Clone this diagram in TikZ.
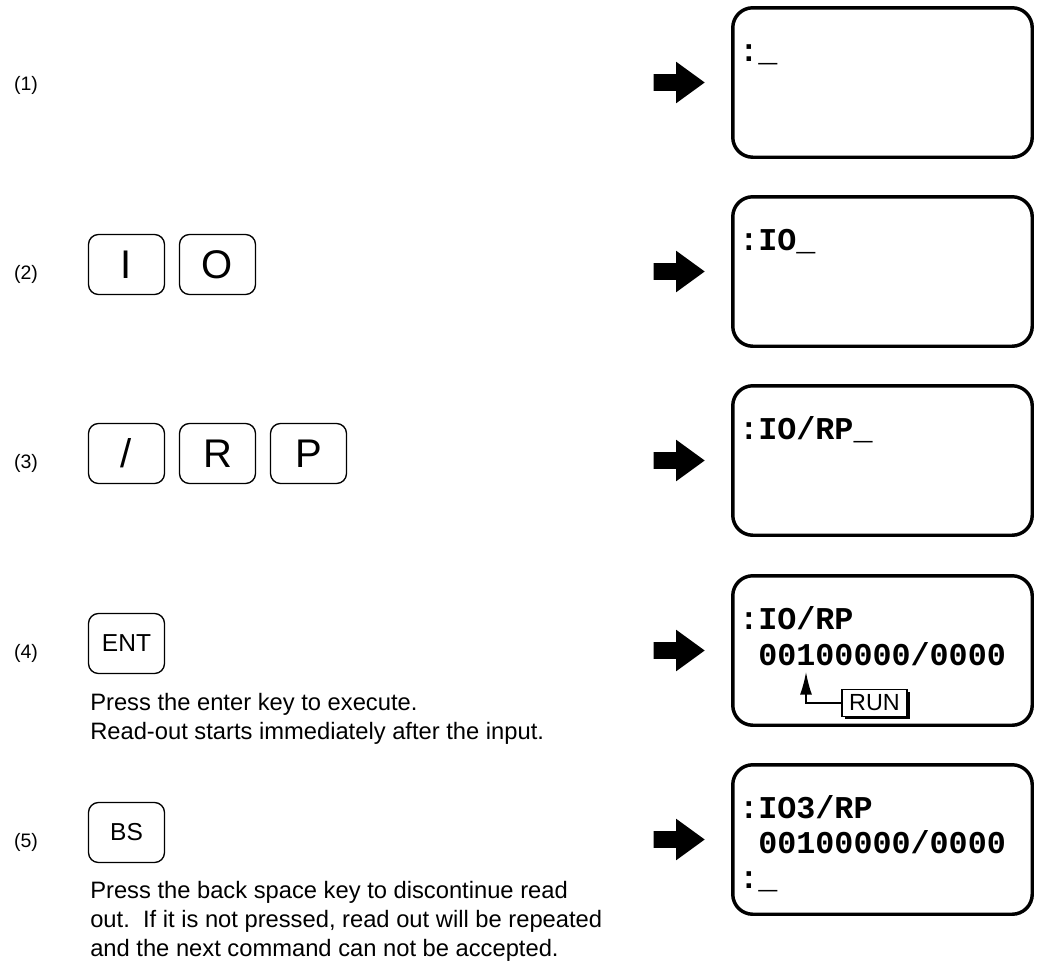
\documentclass[tikz,border=0pt]{standalone}
\usepackage{fontspec}
\setmainfont{Liberation Sans}
\newfontfamily\lcdfont{Liberation Mono}
\usetikzlibrary{arrows.meta, shapes.arrows, shadows}

\begin{document}
\begin{tikzpicture}[x=0.75pt, y=-0.75pt, node distance=68.25pt,
    num/.style = {inner sep=0pt, font=\fontsize{14.6}{17}\selectfont},
    key/.style = {draw, rounded corners=7.5pt, line width=1pt, minimum width=57pt, minimum height=45pt, inner sep=0pt, font=\fontsize{30}{36}\selectfont},
    smallkey/.style = {key, font=\fontsize{18.4}{22}\selectfont},
    note/.style = {align=left, inner sep=0pt, anchor=base west, font=\fontsize{17.8}{21.75}\selectfont},
    screen/.style = {draw, line width=2.6pt, rounded corners=15pt, minimum width=224.6pt, minimum height=112.1pt},
    lcd/.style = {inner sep=0pt, anchor=base west, font=\fontsize{23.8}{26}\selectfont\lcdfont\bfseries},
    go/.style = {single arrow, fill, draw=none, inner xsep=0pt, inner ysep=6pt, minimum height=38.25pt, single arrow head extend=9.4pt, single arrow tip angle=72},
    run/.style = {draw, fill=white, line width=1pt, minimum width=48.75pt, minimum height=20pt, inner sep=0pt, font=\fontsize{17.5}{19}\selectfont, drop shadow={shadow xshift=2pt, shadow yshift=-2pt, fill=black, opacity=1}}]

    \useasboundingbox (0,0) rectangle (1045,967);

    \node[num] (n1) at (26,85.5) {(1)};
    \node[num] (n2) at (26,274.5) {(2)};
    \node[num] (n3) at (26,463.5) {(3)};
    \node[num] (n4) at (26,653.5) {(4)};
    \node[num] (n5) at (26,842.5) {(5)};

    \node[key] (kI) at (126.5,264.5) {I};
    \node[key] (kO) [right of=kI] {O};

    \node[key] (kSlash) at (126.5,453.5) {/};
    \node[key] (kR) [right of=kSlash] {R};
    \node[key] (kP) [right of=kR] {P};

    \node[smallkey] (kENT) at (126.5,643.5) {ENT};
    \node[note] (t4) at (90,739) {Press the enter key to execute.\\Read-out starts immediately after the input.};

    \node[smallkey] (kBS) at (126.5,832.5) {BS};
    \node[note] (t5) at (90,956) {Press the back space key to discontinue read\\out.\ \ If it is not pressed, read out will be repeated\\and the next command can not be accepted.};

    \node[screen] (s1) at (882.5,82.5) {};
    \node[screen] (s2) at (882.5,271.5) {};
    \node[screen] (s3) at (882.5,460.5) {};
    \node[screen] (s4) at (882.5,650.5) {};
    \node[screen] (s5) at (882.5,839.5) {};

    \node[go] (g1) [left of=s1, node distance=156.75pt] {};
    \node[go] (g2) [left of=s2, node distance=156.75pt] {};
    \node[go] (g3) [left of=s3, node distance=156.75pt] {};
    \node[go] (g4) [left of=s4, node distance=156.75pt] {};
    \node[go] (g5) [left of=s5, node distance=156.75pt] {};

    \node[lcd] (l1) at (739,61) {:\_};
    \node[lcd] (l2) at (739,250) {:IO\_};
    \node[lcd] (l3) at (739,439) {:IO/RP\_};
    \node[lcd] (l4a) at (739,629) {:IO/RP};
    \node[lcd] (l4b) at (739,665) {\phantom{0}00100000/0000};
    \node[lcd] (l5a) at (739,818) {:IO3/RP};
    \node[lcd] (l5b) at (739,853) {\phantom{0}00100000/0000};
    \node[lcd] (l5c) at (739,888) {:\_};

    \node[run] (run) at (874.5,703) {RUN};
    \coordinate (cur) at (806,672);
    \draw[line width=1.1pt, -{Latex[length=17pt,width=9pt]}] (run.west) -| (cur);
\end{tikzpicture}
\end{document}
